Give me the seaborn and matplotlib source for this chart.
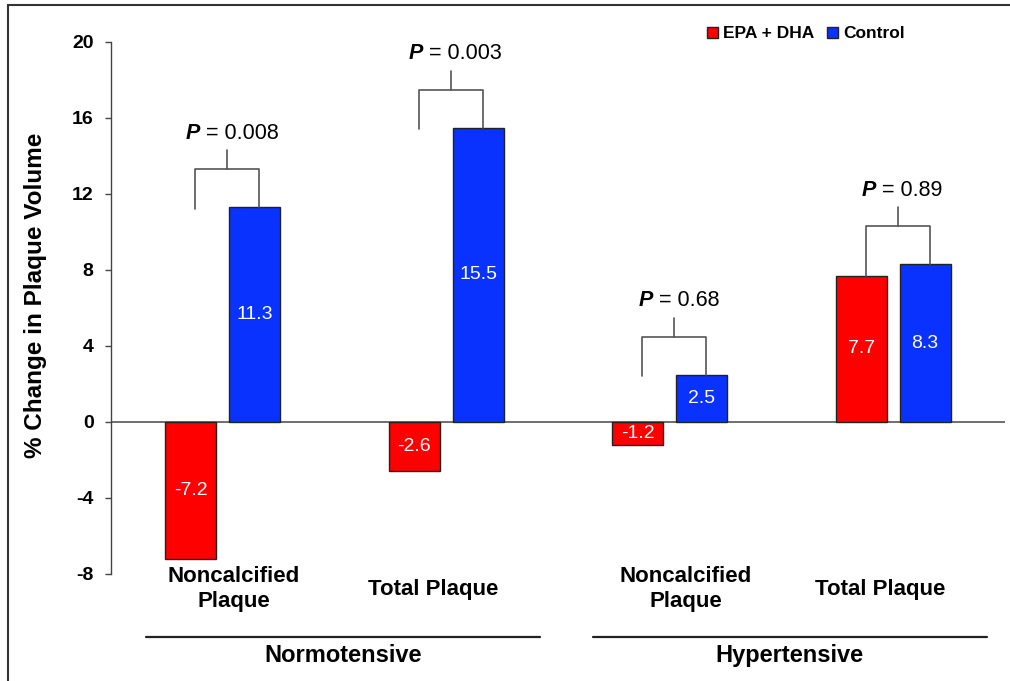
import matplotlib
matplotlib.use("Agg")
import matplotlib.pyplot as plt
import matplotlib.transforms as mtransforms
from matplotlib.lines import Line2D
from matplotlib.patches import Patch, Rectangle
from matplotlib.offsetbox import TextArea, HPacker, AnnotationBbox
import seaborn as sns
import pandas as pd

# data
groups = ["Normotensive", "Normotensive", "Hypertensive", "Hypertensive"]
plaque_types = ["Noncalcified\nPlaque", "Total Plaque", "Noncalcified\nPlaque", "Total Plaque"]
treatments = ["EPA + DHA", "Control"]
epa_dha = [-7.2, -2.6, -1.2, 7.7]
control = [11.3, 15.5, 2.5, 8.3]
p_values = ["0.008", "0.003", "0.68", "0.89"]

colors = {"EPA + DHA": "#ff0000", "Control": "#0a32ff"}

sns.set_theme(style="white")
plt.rcParams["font.family"] = ["Liberation Sans", "DejaVu Sans"]
plt.rcParams["axes.unicode_minus"] = False
plt.rcParams["text.color"] = "black"
plt.rcParams["axes.labelcolor"] = "black"
plt.rcParams["ytick.color"] = "black"

keys = [f"{g}|{p}" for g, p in zip(groups, plaque_types)]
df = pd.DataFrame({
    "key": keys * 2,
    "treatment": [treatments[0]] * 4 + [treatments[1]] * 4,
    "value": epa_dha + control,
})

fig = plt.figure(figsize=(10.1, 6.81), dpi=100)
ax = fig.add_axes([111 / 1010, 1 - 574 / 681, 894 / 1010, 532 / 681])

sns.barplot(data=df, x="key", y="value", hue="treatment", order=keys,
            hue_order=treatments, palette=colors, saturation=1, width=0.57, gap=0.2,
            edgecolor="#222222", linewidth=1.0, errorbar=None, legend=False, ax=ax)

ax.set_xlim(-0.5, 3.5)
ax.set_ylim(-8, 20)
ax.set_yticks(range(-8, 21, 4))
ax.set_xticks([])
ax.set_xlabel("")
ax.set_ylabel("% Change in Plaque Volume", fontsize=17.5, fontweight="bold")
ax.yaxis.set_label_coords(-0.072, 0.524)
ax.tick_params(axis="y", left=True, direction="out", length=4.5, width=1,
               color="#444444", labelcolor="black", labelsize=14, pad=8)
for lab in ax.get_yticklabels():
    lab.set_fontweight("bold")
sns.despine(ax=ax, top=True, right=True, bottom=True)
ax.spines["left"].set_color("#444444")
ax.spines["left"].set_linewidth(1)
ax.axhline(0, color="#555555", lw=1.2, zorder=0)

# values inside the bars
for cont in ax.containers:
    ax.bar_label(cont, fmt="%.1f", label_type="center", color="white", fontsize=14)

# significance brackets
red_bars = ax.containers[0]
blue_bars = ax.containers[1]
shift = 0.02
for i in range(len(keys)):
    rb, bb = red_bars[i], blue_bars[i]
    xr = rb.get_x() + rb.get_width() / 2 + shift
    xb = bb.get_x() + bb.get_width() / 2 + shift
    r, b = epa_dha[i], control[i]
    top = max(r, b) + 2.0
    left_bottom = r if r > 0 else b - 0.1
    ax.plot([xr, xr, xb, xb], [left_bottom, top, top, b], color="#555555", lw=1.2)
    mid = (xr + xb) / 2
    ax.plot([mid, mid], [top, top + 1.0], color="#555555", lw=1.2)
    pack = HPacker(children=[
        TextArea("P", textprops=dict(fontsize=15.5, fontweight="bold", fontstyle="italic",
                                     color="black")),
        TextArea(" = " + p_values[i], textprops=dict(fontsize=15.5, color="black")),
    ], pad=0, sep=0, align="baseline")
    ab = AnnotationBbox(pack, (mid + 0.02, top + 1.9), xycoords="data",
                        frameon=False, box_alignment=(0.5, 0.5), pad=0)
    ax.add_artist(ab)

# category labels and group labels under the axis
trans = mtransforms.blended_transform_factory(ax.transData, ax.transAxes)
label_dx = [0.05, -0.06, 0.07, -0.06]
for i, lab in enumerate(plaque_types):
    ax.text(i + label_dx[i], -0.029, lab, transform=trans, ha="center", va="center",
            fontsize=16, fontweight="bold", linespacing=1.25, clip_on=False)

for g in dict.fromkeys(groups):
    idx = [i for i, gg in enumerate(groups) if gg == g]
    x0, x1 = idx[0] - 0.345, idx[-1] + 0.42
    ax.add_line(Line2D([x0, x1], [-0.118, -0.118], transform=trans, color="#222222",
                       lw=1.6, clip_on=False))
    ax.text((x0 + x1) / 2, -0.153, g, transform=trans, ha="center", va="center",
            fontsize=17, fontweight="bold", clip_on=False)

# legend
handles = [Patch(facecolor=colors[t], edgecolor="#222222", lw=1) for t in treatments]
fig.legend(handles, treatments, loc="center", bbox_to_anchor=(806 / 1010, 1 - 34 / 681),
           ncol=2, frameon=False, prop={"weight": "bold", "size": 12.5},
           handlelength=0.65, handleheight=0.65, handletextpad=0.3,
           columnspacing=0.7, borderpad=0)

# outer frame (left and top edges visible)
fig.add_artist(Rectangle((8 / 1010, -0.05), 1.0, 1.05 - 5 / 681, transform=fig.transFigure,
                         fill=False, edgecolor="#333333", lw=1.5))

fig.savefig("out.png", dpi=100, facecolor="white")
